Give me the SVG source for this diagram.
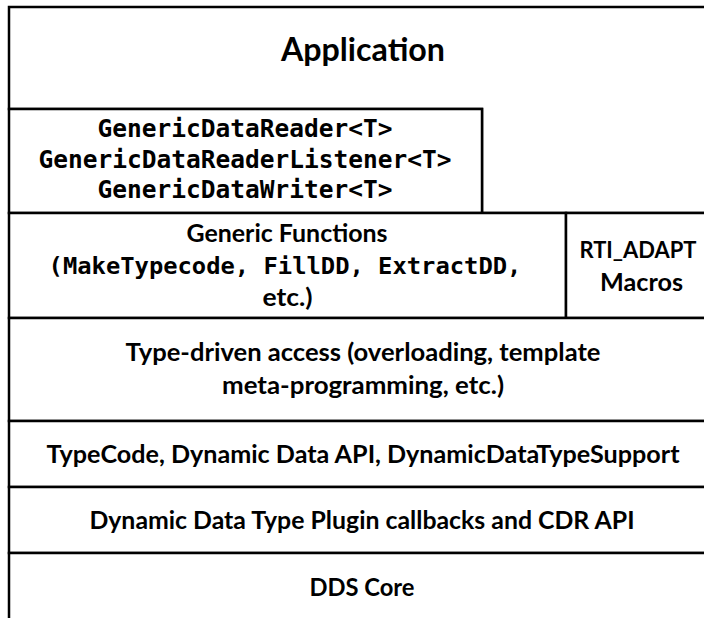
<svg xmlns="http://www.w3.org/2000/svg" width="704" height="618" viewBox="0 0 704 618">
<style>
.box{fill:#fff;stroke:#000;stroke-width:2.5}
.t{font-family:Lato,"Liberation Sans",sans-serif;font-weight:bold;font-size:25px;fill:#000;text-anchor:middle}
.big{font-size:32px}
.m{font-family:"DejaVu Sans Mono","Liberation Mono",monospace;font-weight:bold;font-size:24.5px;fill:#000;text-anchor:middle}
</style>
<rect width="704" height="618" fill="#fff"/>
<g id="application">
<path class="box" d="M9,7 H706 V213 H482 V109 H9 Z"/>
<text class="t big" x="363" y="61" textLength="164" lengthAdjust="spacingAndGlyphs">Application</text>
</g>
<g id="generic-reader-writer">
<rect class="box" x="9" y="109" width="473" height="104"/>
<text class="m" x="245" y="137">GenericDataReader&lt;T&gt;</text>
<text class="m" x="245" y="167.5">GenericDataReaderListener&lt;T&gt;</text>
<text class="m" x="245" y="198">GenericDataWriter&lt;T&gt;</text>
</g>
<g id="generic-functions">
<rect class="box" x="9" y="213" width="557" height="105"/>
<text class="t" x="287" y="242" textLength="201" lengthAdjust="spacingAndGlyphs">Generic Functions</text>
<text class="m" x="285" y="274" style="font-size:23.8px">(MakeTypecode, FillDD, ExtractDD,</text>
<text class="t" x="287.5" y="306" textLength="50" lengthAdjust="spacingAndGlyphs">etc.)</text>
</g>
<g id="rti-adapt-macros">
<rect class="box" x="566" y="213" width="140" height="105"/>
<text class="t" x="638" y="258" style="font-size:23.5px" textLength="117" lengthAdjust="spacingAndGlyphs">RTI_ADAPT</text>
<text class="t" x="641.5" y="291" textLength="83" lengthAdjust="spacingAndGlyphs">Macros</text>
</g>
<g id="type-driven-access">
<rect class="box" x="9" y="318" width="697" height="103"/>
<text class="t" x="363" y="361" textLength="475" lengthAdjust="spacingAndGlyphs">Type-driven access (overloading, template</text>
<text class="t" x="363" y="394" textLength="282" lengthAdjust="spacingAndGlyphs">meta-programming, etc.)</text>
</g>
<g id="typecode-dynamic-data">
<rect class="box" x="9" y="421" width="697" height="66"/>
<text class="t" x="363" y="463" textLength="633" lengthAdjust="spacingAndGlyphs">TypeCode, Dynamic Data API, DynamicDataTypeSupport</text>
</g>
<g id="plugin-cdr">
<rect class="box" x="9" y="487" width="697" height="66"/>
<text class="t" x="362" y="529" textLength="545" lengthAdjust="spacingAndGlyphs">Dynamic Data Type Plugin callbacks and CDR API</text>
</g>
<g id="dds-core">
<rect class="box" x="9" y="553" width="697" height="70"/>
<text class="t" x="362" y="596" textLength="105" lengthAdjust="spacingAndGlyphs">DDS Core</text>
</g>
<g id="connectors"/>
</svg>
